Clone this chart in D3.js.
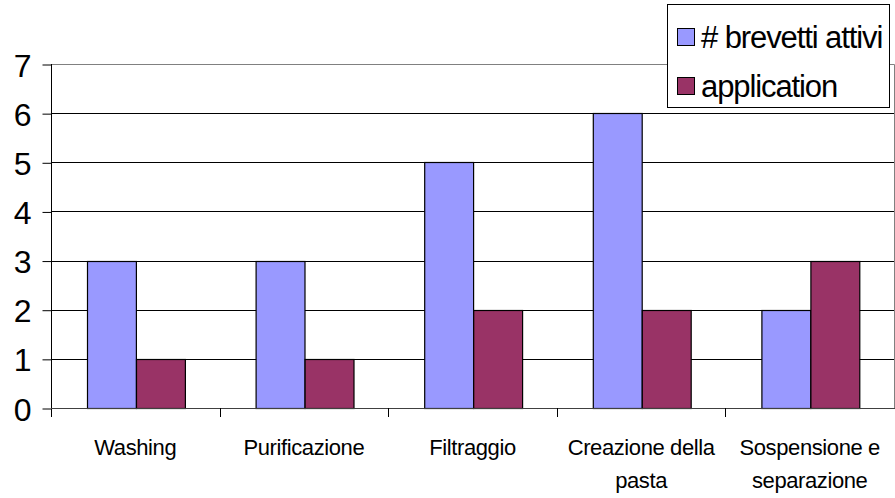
<!DOCTYPE html>
<html>
<head>
<meta charset="utf-8">
<script src="https://cdn.jsdelivr.net/npm/d3@7"></script>
<style>
  html, body { margin: 0; padding: 0; background: #fff; }
  svg { display: block; }
  text { font-family: "Liberation Sans", Arial, sans-serif; fill: #000; }
</style>
</head>
<body>
<svg id="chart" width="895" height="498"></svg>
<script>
const categories = [["Washing"], ["Purificazione"], ["Filtraggio"], ["Creazione della", "pasta"], ["Sospensione e", "separazione"]];
const seriesNames = ["# brevetti attivi", "application"];
const brevettiAttivi = [3, 3, 5, 6, 2];
const application = [1, 1, 2, 2, 3];
const yTicks = [0, 1, 2, 3, 4, 5, 6, 7];
const colors = ["#9999FF", "#993366"];

(function () {
const svg = d3.select("#chart");
const pL = 51, pR = 894, pT = 64, pB = 408;

const catKeys = categories.map((c, i) => i);
const x0 = d3.scaleBand().domain(catKeys).range([pL, pR]).paddingInner(0).paddingOuter(0);
const bw = x0.bandwidth();
const x1 = d3.scaleBand().domain([0, 1]).range([bw * 0.213, bw * 0.793]).padding(0);
const y = d3.scaleLinear().domain([0, 7]).range([pB, pT]);

// gridlines
svg.append("g").selectAll("line").data(yTicks.filter(t => t > 0 && t < 7)).join("line")
  .attr("x1", pL).attr("x2", pR)
  .attr("y1", d => Math.round(y(d)) + 0.5).attr("y2", d => Math.round(y(d)) + 0.5)
  .attr("stroke", "#000").attr("stroke-width", 1);

// plot area border (top & right)
svg.append("line").attr("x1", pL).attr("x2", pR + 0.5)
  .attr("y1", Math.round(y(7)) + 0.5).attr("y2", Math.round(y(7)) + 0.5)
  .attr("stroke", "#808080");
svg.append("line").attr("x1", pR + 0.5).attr("x2", pR + 0.5)
  .attr("y1", Math.round(y(7)) + 0.5).attr("y2", pB + 1)
  .attr("stroke", "#808080");

// bars
const data = [brevettiAttivi, application];
const groups = svg.append("g").selectAll("g").data(catKeys).join("g")
  .attr("transform", d => `translate(${x0(d)},0)`);
groups.selectAll("rect").data(i => data.map((s, k) => ({k, v: s[i]}))).join("rect")
  .attr("x", d => Math.round(x1(d.k)) + 0.5)
  .attr("width", x1.bandwidth())
  .attr("y", d => Math.round(y(d.v)) + 0.5)
  .attr("height", d => y(0) - Math.round(y(d.v)))
  .attr("fill", d => colors[d.k])
  .attr("stroke", "#000").attr("stroke-width", 1.2);

// y axis
const yAxis = d3.axisLeft(y).tickValues(yTicks).tickSize(9).tickPadding(11).tickFormat(d3.format("d"));
const gy = svg.append("g").attr("transform", `translate(${pL + 0.5},0.5)`).call(yAxis);
gy.select(".domain").remove();
gy.selectAll(".tick line").attr("stroke", "#000");
gy.selectAll(".tick text").attr("font-size", 32).attr("font-family", "Liberation Sans, Arial, sans-serif").attr("dy", "0.36em");
svg.append("line").attr("x1", pL + 0.5).attr("x2", pL + 0.5).attr("y1", pT).attr("y2", pB + 9).attr("stroke", "#000");

// x axis
svg.append("line").attr("x1", pL).attr("x2", pR + 1).attr("y1", pB + 0.5).attr("y2", pB + 0.5).attr("stroke", "#404040");
const boundaries = catKeys.map(i => x0(i)).concat([pR]);
svg.append("g").selectAll("line").data(boundaries.slice(1, 5)).join("line")
  .attr("x1", d => Math.round(d) + 0.5).attr("x2", d => Math.round(d) + 0.5)
  .attr("y1", pB).attr("y2", pB + 9).attr("stroke", "#000");

// category labels
const lbl = svg.append("g").selectAll("text").data(catKeys).join("text")
  .attr("text-anchor", "middle")
  .attr("font-size", 22)
  .attr("letter-spacing", "-0.4px")
  .attr("x", d => x0(d) + bw / 2)
  .attr("y", 455);
lbl.selectAll("tspan").data(d => categories[d]).join("tspan")
  .attr("x", function() { return d3.select(this.parentNode).attr("x"); })
  .attr("dy", (d, i) => i === 0 ? 0 : 33)
  .text(d => d);

// legend
const lg = svg.append("g");
lg.append("rect").attr("x", 667.5).attr("y", 4.5).attr("width", 222).attr("height", 103)
  .attr("fill", "#fff").attr("stroke", "#000");
const rowY = [37, 86];
seriesNames.forEach((name, i) => {
  lg.append("rect").attr("x", 677.5).attr("y", rowY[i] - 8.5).attr("width", 17).attr("height", 17)
    .attr("fill", colors[i]).attr("stroke", "#000");
  lg.append("text").attr("x", 701).attr("y", rowY[i]).attr("dy", "0.36em")
    .attr("font-size", 31).attr("letter-spacing", "-1.1px").text(name);
});
})();
</script>
</body>
</html>
